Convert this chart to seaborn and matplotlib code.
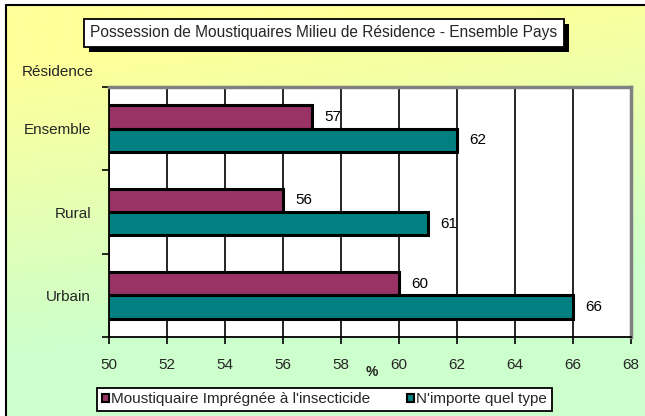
# bar chart: possession de moustiquaires par milieu de residence

import matplotlib.pyplot as plt
import matplotlib.patheffects as pe
from matplotlib.lines import Line2D
import numpy as np
import pandas as pd
import seaborn as sns

residences = ["Ensemble", "Rural", "Urbain"]
impregnee = [57, 56, 60]
tout_type = [62, 61, 66]
series_names = ["Moustiquaire Imprégnée à l'insecticide", "N'importe quel type"]
x_ticks = [50, 52, 54, 56, 58, 60, 62, 64, 66, 68]

W, H = 645, 416
FS = 11


def make_background(fig):
    bg = fig.add_axes([6 / W, 0, 1 - 6 / W, 1 - 5 / H], zorder=-10)
    ny, nx = 200, 300
    yy, xx = np.mgrid[0:1:ny * 1j, 0:1:nx * 1j]
    t = np.clip(1.4 * yy + 0.3 * xx - 0.2, 0, 1)
    top = np.array([1.0, 1.0, 0.6])
    bottom = np.array([0.8, 1.0, 0.8])
    img = top[None, None, :] * (1 - t[..., None]) + bottom[None, None, :] * t[..., None]
    bg.imshow(img, aspect="auto", extent=[0, 1, 0, 1], origin="upper",
              interpolation="bilinear")
    bg.set_xlim(0, 1)
    bg.set_ylim(0, 1)
    bg.axis("off")
    # left and top border only, the rest is cut off in the original
    fig.add_artist(Line2D([6 / W, 6 / W], [0, 1 - 5 / H], color="black", lw=1.5))
    fig.add_artist(Line2D([6 / W, 1], [1 - 5 / H, 1 - 5 / H], color="black", lw=1.5))


def main():
    sns.set_theme(style="white")
    plt.rcParams["font.family"] = ["Liberation Sans", "DejaVu Sans"]

    df = pd.DataFrame({
        "residence": residences * 2,
        "type": [series_names[0]] * 3 + [series_names[1]] * 3,
        "valeur": impregnee + tout_type,
    })

    fig = plt.figure(figsize=(W / 100, H / 100), dpi=100)
    fig.patch.set_facecolor("white")
    make_background(fig)

    ax = fig.add_axes([109 / W, 1 - 337 / H, 522 / W, 250 / H])
    sns.barplot(data=df, y="residence", x="valeur", hue="type", orient="h",
                palette=["#993366", "#008080"], width=0.56, gap=0,
                edgecolor="black", linewidth=2.2, saturation=1, ax=ax)

    for cont in ax.containers:
        ax.bar_label(cont, padding=9, fontsize=FS, color="black")

    ax.set_xlim(50, 68)
    ax.set_xticks(x_ticks)
    ax.set_xlabel("")
    ax.set_ylabel("")
    ax.set_facecolor("white")
    ax.grid(axis="x", color="black", lw=1.2)
    ax.grid(axis="y", visible=False)
    ax.set_axisbelow(True)

    ax.set_yticks([-0.5, 0.5, 1.5, 2.5], minor=True)
    ax.tick_params(axis="y", which="major", length=0, pad=13, labelsize=FS)
    ax.tick_params(axis="y", which="minor", length=5, width=1.2, color="black",
                   direction="out", left=True)
    ax.tick_params(axis="x", length=5, width=1.2, color="black", direction="out",
                   bottom=True, pad=10, labelsize=FS)

    for side in ["top", "right"]:
        ax.spines[side].set_color("#808080")
        ax.spines[side].set_linewidth(2.5)
    for side in ["left", "bottom"]:
        ax.spines[side].set_color("black")
        ax.spines[side].set_linewidth(1.3)

    handles, labels = ax.get_legend_handles_labels()
    ax.legend_.remove()
    leg = fig.legend(handles, labels, loc="center", ncol=2,
                     bbox_to_anchor=(324.5 / W, 1 - 399.5 / H),
                     fontsize=FS, frameon=True, fancybox=False,
                     edgecolor="black", facecolor="white", framealpha=1,
                     handlelength=0.45, handleheight=0.45, handletextpad=0.15,
                     columnspacing=2.4, borderpad=0.3, borderaxespad=0)
    leg.get_frame().set_linewidth(1.3)
    for h in leg.legend_handles:
        h.set_linewidth(1.5)

    title = fig.text(324 / W, 1 - 33 / H,
                     "Possession de Moustiquaires Milieu de Résidence - Ensemble Pays",
                     ha="center", va="center", fontsize=11.2,
                     bbox=dict(boxstyle="square,pad=0.4", fc="white", ec="black", lw=1.3))
    title.get_bbox_patch().set_path_effects([
        pe.SimplePatchShadow(offset=(3.5, -3.5), shadow_rgbFace="black", alpha=1),
        pe.Normal(),
    ])

    fig.text(22 / W, 1 - 72 / H, "Résidence", ha="left", va="center", fontsize=FS)
    fig.text(372 / W, 1 - 372 / H, "%", ha="center", va="center", fontsize=10,
             fontweight="bold")

    fig.savefig("out.png", dpi=100)
    plt.close(fig)


if __name__ == "__main__":
    main()
